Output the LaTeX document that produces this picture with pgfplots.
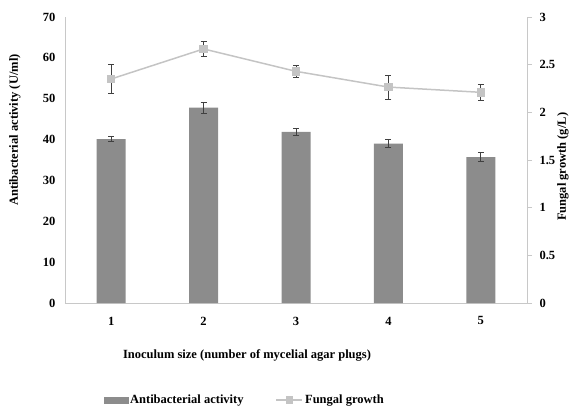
\documentclass[border=0pt]{standalone}
\usepackage{pgfplots}
\pgfplotsset{compat=1.18}
\usepackage{fontspec}
\setmainfont{Liberation Serif}
\definecolor{barc}{HTML}{8C8C8C}
\definecolor{linec}{HTML}{C4C4C4}
\definecolor{axc}{HTML}{C8C8C8}
\definecolor{errc}{HTML}{404040}
\newcommand{\ff}{\fontsize{12.5}{14}\selectfont\bfseries}
\begin{document}
\begin{tikzpicture}[font=\ff]
\useasboundingbox (0,0) rectangle (573pt,408pt);
\begin{axis}[
  at={(65pt,105pt)}, anchor=south west,
  width=462pt, height=286pt, scale only axis,
  xmin=0.5, xmax=5.5, ymin=0, ymax=70,
  xtick={1,2,3,4,5}, ytick={0,10,...,70},
  axis y line*=left, axis x line*=bottom,
  axis line style={axc, line width=0.8pt},
  tick style={draw=none},
  /pgf/number format/assume math mode=true,
  tick label style={font=\ff},
  xticklabel style={yshift=-6pt},
  yticklabel style={xshift=-6pt},
  xlabel={Inoculum size (number of mycelial agar plugs)},
  xlabel style={at={(axis description cs:0.394,0)}, anchor=center, yshift=-52pt},
  ylabel={Antibacterial activity (U/ml)},
  ylabel style={at={(axis description cs:0,0.605)}, anchor=center, rotate=0, yshift=50pt},
  ybar, bar width=29pt,
]
\addplot[fill=barc, draw=none,
  error bars/.cd, y dir=both, y explicit,
  error bar style={errc, line width=0.8pt},
  error mark options={rotate=90, mark size=3pt, line width=0.8pt, errc}]
  coordinates {(1,40.1) +- (0,0.6) (2,47.8) +- (0,1.3) (3,41.9) +- (0,0.85) (4,39.0) +- (0,1.0) (5,35.7) +- (0,1.05)};
\end{axis}
\begin{axis}[
  at={(65pt,105pt)}, anchor=south west,
  width=462pt, height=286pt, scale only axis,
  xmin=0.5, xmax=5.5, ymin=0, ymax=3,
  axis x line=none, axis y line*=right,
  axis line style={axc, line width=0.8pt},
  ytick={0,0.5,1,1.5,2,2.5,3},
  tick align=outside, major tick length=5pt,
  tick style={axc, line width=0.8pt},
  /pgf/number format/assume math mode=true,
  tick label style={font=\ff},
  yticklabel style={xshift=4pt},
  ylabel={Fungal growth (g/L)},
  ylabel style={at={(axis description cs:1,0.476)}, anchor=center, rotate=0, yshift=-36pt},
  legend columns=2,
  legend style={draw=none, fill=none, at={(axis description cs:0.389,-0.339)}, anchor=center,
    font=\ff,
    /tikz/every even column/.append style={column sep=30pt}},
]
\addlegendimage{legend image code/.code={\fill[barc] (0pt,-3pt) rectangle (24pt,3pt);}}
\addlegendentry{Antibacterial activity}
\addplot[linec, line width=1.5pt, mark=square*, mark size=3.5pt,
  mark options={fill=linec, draw=linec},
  legend image code/.code={\draw[linec,line width=1.5pt] (0pt,0pt) -- (26pt,0pt); \fill[linec] (10pt,-3pt) rectangle (16pt,3pt);},
  error bars/.cd, y dir=both, y explicit,
  error bar style={errc, line width=0.8pt},
  error mark options={rotate=90, mark size=3pt, line width=0.8pt, errc}]
  coordinates {(1,2.35) +- (0,0.15) (2,2.665) +- (0,0.08) (3,2.43) +- (0,0.06) (4,2.265) +- (0,0.125) (5,2.21) +- (0,0.08)};
\addlegendentry{Fungal growth}
\end{axis}
\end{tikzpicture}
\end{document}
